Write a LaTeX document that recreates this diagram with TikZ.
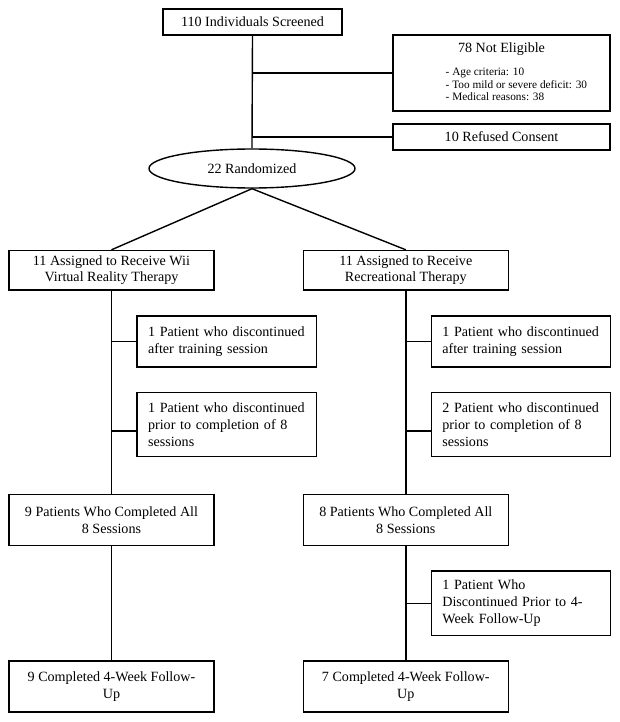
\documentclass[tikz,border=0pt]{standalone}
\usepackage{fontspec}
\setmainfont{Liberation Serif}
\usetikzlibrary{shapes.geometric}
\begin{document}
\begin{tikzpicture}[x=1pt,y=-1pt,
  every path/.style={line width=1.4pt},
  mainfont/.style={font=\fontsize{14.1}{16.7}\selectfont},
  cbox/.style={draw, line width=1.4pt, rectangle, inner sep=0pt, align=center, mainfont,
    minimum width=205pt, minimum height=#1},
  cbox/.default=51pt,
  lbox/.style={draw, line width=1.4pt, rectangle, inner xsep=11pt, inner ysep=0pt, align=left,
    text width=157.3pt, mainfont, minimum height=#1},
  lbox/.default=51pt,
  link/.style={draw, line width=1.4pt}
]
\useasboundingbox (0,0) rectangle (620,722);

% top part
\node[cbox=26pt, minimum width=179pt] (scr) at (252.5,22) {110 Individuals Screened};
\node[draw, line width=1.4pt, rectangle, minimum width=217pt, minimum height=76pt, inner sep=0pt] (nel) at (501.5,73) {};
\node[mainfont, inner sep=0pt] (nelt) at (501.5,49) {78 Not Eligible};
\node[font=\fontsize{11.3}{12.8}\selectfont, align=left, anchor=west, inner sep=0pt] (nell) at (445,84.5)
  {- Age criteria: 10\\- Too mild or severe deficit: 30\\- Medical reasons: 38};
\node[cbox=26pt, minimum width=217pt] (ref) at (501.5,137) {10 Refused Consent};
\node[draw, line width=1.4pt, ellipse, minimum width=206pt, minimum height=39pt, inner sep=0pt, mainfont] (rand) at (252,168.5) {22 Randomized};

% arms
\node[cbox=39.5pt] (asg1) at (111.5,270.25) {11 Assigned to Receive Wii\\Virtual Reality Therapy};
\node[cbox=39.5pt] (asg2) at (405.8,270.25) {11 Assigned to Receive\\Recreational Therapy};

\node[lbox] (d1a) at (226.7,341.5) {1 Patient who discontinued\\after training session};
\node[lbox=64pt] (d1b) at (226.7,424.7) {1 Patient who discontinued\\prior to completion of 8\\sessions};
\node[lbox] (d2a) at (521,341.5) {1 Patient who discontinued\\after training session};
\node[lbox=64pt] (d2b) at (521,424.7) {2 Patient who discontinued\\prior to completion of 8\\sessions};

\node[cbox] (c1) at (111.5,520.2) {9 Patients Who Completed All\\8 Sessions};
\node[cbox] (c2) at (405.8,520.2) {8 Patients Who Completed All\\8 Sessions};

\node[lbox=64.3pt] (d2c) at (521,603.2) {1 Patient Who\\Discontinued Prior to 4-\\Week Follow-Up};

\node[cbox] (f1) at (111.5,686.5) {9 Completed 4-Week Follow-\\Up};
\node[cbox] (f2) at (405.8,686.5) {7 Completed 4-Week Follow-\\Up};

\coordinate (b1) at ([yshift=-6.3pt]d1b.west);
\coordinate (b2) at ([yshift=-6.3pt]d2b.west);

% connectors
\draw[link] (scr.south) -- (rand.north);
\draw[link] (scr.south |- nel.west) -- (nel.west);
\draw[link] (scr.south |- ref.west) -- (ref.west);
\draw[link] (rand.south) -- (asg1.north);
\draw[link] (rand.south) -- (asg2.north);

\draw[link] (asg1.south) -- (c1.north);
\draw[link] (asg1.south |- d1a.west) -- (d1a.west);
\draw[link] (asg1.south |- b1) -- (b1);
\draw[link] (c1.south) -- (f1.north);

\draw[link] (asg2.south) -- (c2.north);
\draw[link] (asg2.south |- d2a.west) -- (d2a.west);
\draw[link] (asg2.south |- b2) -- (b2);
\draw[link] (c2.south) -- (f2.north);
\draw[link] (c2.south |- d2c.west) -- (d2c.west);
\end{tikzpicture}
\end{document}
